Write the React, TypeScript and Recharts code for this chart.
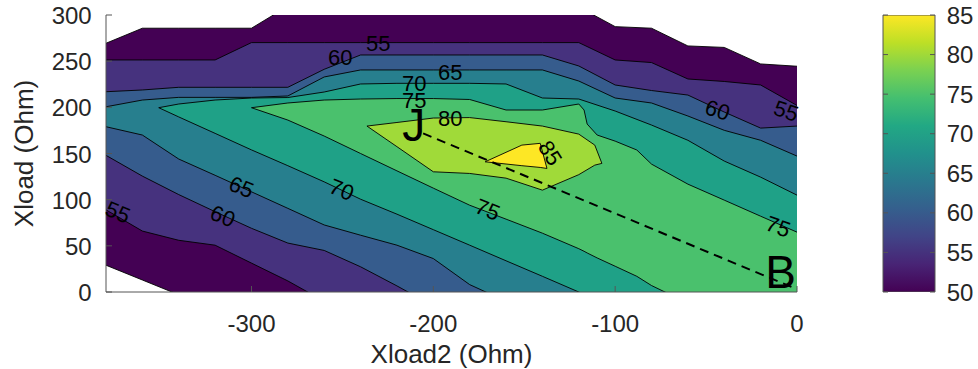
import React from "react";
import {
  Area,
  Bar,
  ComposedChart,
  ReferenceLine,
  Scatter,
  XAxis,
  YAxis,
} from "recharts";

// Filled contour regions (value >= level).
// Each row: [Xload2, lower edge of region, upper edge of region] in Ohm.
const band50 = [
  [-380, 29, 269.4], [-360, 13, 285.7], [-340, -3, 285.7], [-320, -10, 285.7],
  [-300, -10, 285.7], [-280, -10, 309.5], [-260, -10, 320], [-240, -10, 320],
  [-220, -10, 320], [-200, -10, 320], [-180, -10, 320], [-160, -10, 320],
  [-140, -10, 320], [-120, -10, 308.7], [-100, -10, 287.4], [-80, -10, 285.7],
  [-60, -10, 266.5], [-40, -10, 264.9], [-20, -10, 247], [0, -10, 244.5],
];
const band55 = [
  [-380, 89, 251.3], [-360, 66, 251.3], [-340, 56, 251.3], [-320, 50.7, 251.3],
  [-300, 31.3, 270.1], [-280, 12, 270.1], [-260, -10, 270.1], [-240, -10, 270.1],
  [-220, -10, 270.1], [-200, -10, 270.1], [-180, -10, 270.1], [-160, -10, 270.1],
  [-140, -10, 270.1], [-120, -10, 270.1], [-100, -10, 251.3], [-80, -10, 248.5],
  [-60, -10, 230.7], [-40, -10, 228], [-20, -10, 224.2], [0, -10, 202],
];
const band60 = [
  [-380, 148, 216.9], [-360, 125.5, 218.8], [-340, 105.5, 221.7], [-320, 87, 221.7],
  [-300, 69, 221.7], [-280, 53, 221.7], [-260, 45, 241.2], [-240, 27.3, 256.7],
  [-220, 6.6, 256.7], [-200, -15, 256.7], [-180, -15, 256.7], [-160, -15, 256.7],
  [-140, -15, 256.7], [-120, -15, 244.8], [-100, -15, 224.2], [-80, -15, 218.2],
  [-60, -15, 213.3], [-40, -15, 194.9], [-20, -15, 177.5], [0, -15, 179.7],
];
const band65 = [
  [-380, 179, 200.6], [-360, 170, 207.9], [-340, 144, 210.8], [-320, 126.4, 210.8],
  [-300, 108.5, 210.8], [-280, 90.6, 212.3], [-260, 72.6, 232.9], [-240, 61.5, 240.5],
  [-220, 50.7, 240.5], [-200, 36.2, 240.5], [-180, 8, 240.5], [-160, -10, 240.5],
  [-140, -10, 240.5], [-120, -10, 228.5], [-100, -10, 210.1], [-80, -10, 204.7],
  [-60, -10, 190.6], [-40, -10, 175.1], [-20, -10, 164.3], [0, -10, 147.2],
];
const band70 = [
  [-351, 199.6, 199.6], [-340, 189.6, 203.6], [-320, 171.8, 207.9], [-300, 153.9, 210.1],
  [-280, 136.8, 210.6], [-260, 119.3, 216.6], [-240, 100.5, 225.3], [-220, 84.3, 226],
  [-200, 67.5, 226], [-180, 50.7, 226], [-160, 33.8, 225.3], [-140, 17, 210.1],
  [-120, 0, 209], [-100, -20, 196], [-80, -20, 180.8], [-60, -20, 164.3],
  [-40, -20, 141.8], [-20, -20, 124.4], [0, -20, 104.9],
];
const band75 = [
  [-300, 199.6, 199.6], [-280, 186.2, 204.7], [-260, 168.9, 207.9], [-240, 150, 209],
  [-220, 131.2, 209.5], [-200, 112.5, 209.5], [-180, 94, 208.5], [-160, 78.9, 197.1],
  [-140, 63.7, 197.1], [-120, 46.9, 203.6], [-117.1, 44.1, 197.1], [-115.4, 42.3, 181.9],
  [-109.9, 36.9, 170], [-100, 27.9, 163.4], [-88.1, 17, 153.8], [-80, 7, 138.5],
  [-60, -12, 116.8], [-40, -12, 99.5], [-20, -12, 82.1], [0, -12, 64.8],
];
const band80 = [
  [-236.5, 179.7, 179.7], [-220, 157.4, 183.6], [-200, 130.2, 188.4], [-180, 128.4, 188.9],
  [-160, 123.3, 184.4], [-140, 110.3, 179.7], [-120, 127.1, 171], [-111.2, 137.4, 159.1],
  [-107.3, 139.3, 139.3],
];
const band85 = [
  [-171.5, 141, 141], [-151.3, 136.8, 159.1], [-141.2, 134.9, 161], [-137.5, 133.8, 133.8],
];

const levels = [50, 55, 60, 65, 70, 75, 80, 85];
const levelColors = ["#440154", "#46327e", "#365c8d", "#277f8e", "#1fa187", "#4ac16d", "#a0da39", "#fde725"];
const bands = [band50, band55, band60, band65, band70, band75, band80, band85];

const xTicks = [-300, -200, -100, 0];
const yTicks = [0, 50, 100, 150, 200, 250, 300];
const cbarTicks = [50, 55, 60, 65, 70, 75, 80, 85];
const cbarSpan = [{ name: "efficiency", span: [50, 85] }];

const contourLabels = [
  { x: -230.3, y: 268.7, text: "55", angle: 0 },
  { x: -251.2, y: 254.5, text: "60", angle: 0 },
  { x: -190.7, y: 238.2, text: "65", angle: 0 },
  { x: -210.5, y: 225.3, text: "70", angle: 0 },
  { x: -210.5, y: 207.9, text: "75", angle: 0 },
  { x: -190.7, y: 187.4, text: "80", angle: 0 },
  { x: -135.8, y: 150.4, text: "85", angle: 58 },
  { x: -373.5, y: 86.4, text: "55", angle: 22 },
  { x: -315.8, y: 82.1, text: "60", angle: 22 },
  { x: -305.6, y: 113.6, text: "65", angle: 22 },
  { x: -250.4, y: 110.8, text: "70", angle: 22 },
  { x: -170.1, y: 89.2, text: "75", angle: 22 },
  { x: -43.7, y: 197, text: "60", angle: 18 },
  { x: -6, y: 196, text: "55", angle: 18 },
  { x: -10.4, y: 70.7, text: "75", angle: 20 },
];
const markers = [
  { x: -217.1, y: 163.4, text: "J" },
  { x: -17.5, y: 4, text: "B" },
];
const pathJB = [
  { x: -205.6, y: 171.8 },
  { x: 0, y: 3 },
];

const viridis = ["#440154", "#482475", "#414487", "#355f8d", "#2a788e", "#21918c", "#22a884", "#44bf70", "#7ad151", "#bddf26", "#fde725"];

// merge the regions into one table keyed by Xload2
const rowsByX = new Map<number, any>();
bands.forEach((pts, i) =>
  pts.forEach(([x, lo, hi]) => {
    const row = rowsByX.get(x) ?? { x };
    row["b" + levels[i]] = [lo, hi];
    rowsByX.set(x, row);
  })
);
const table = [...rowsByX.values()].sort((a, b) => a.x - b.x);

const FONT = '"Liberation Sans", Arial, Helvetica, sans-serif';
const AXIS = "#555";
const TEXT = "#262626";

const BottomTick = ({ x, y, payload }: any) => (
  <g>
    <line x1={x} y1={y} x2={x} y2={y - 6} stroke={AXIS} />
    <text x={x} y={y + 39.5} textAnchor="middle" fontSize={24} fill={TEXT}>
      {payload.value}
    </text>
  </g>
);
const TopTick = ({ x, y }: any) => <line x1={x} y1={y} x2={x} y2={y + 6} stroke={AXIS} />;
const LeftTick = ({ x, y, payload }: any) => (
  <g>
    <line x1={x} y1={y} x2={x + 6} y2={y} stroke={AXIS} />
    <text x={x - 14.3} y={y + 9} textAnchor="end" fontSize={24} fill={TEXT}>
      {payload.value}
    </text>
  </g>
);
const RightTick = ({ x, y }: any) => <line x1={x} y1={y} x2={x - 6} y2={y} stroke={AXIS} />;

const CbarRightTick = ({ x, y, payload }: any) => (
  <g>
    <line x1={x} y1={y} x2={x - 5} y2={y} stroke={AXIS} />
    <text x={x + 11.7} y={y + 8.5} textAnchor="start" fontSize={24} fill={TEXT}>
      {payload.value}
    </text>
  </g>
);
const CbarLeftTick = ({ x, y }: any) => <line x1={x} y1={y} x2={x + 5} y2={y} stroke={AXIS} />;

const XTitle = ({ viewBox }: any) => (
  <text x={viewBox.x + viewBox.width / 2} y={viewBox.y + 70.7} textAnchor="middle" fontSize={26} fill={TEXT}>
    Xload2 (Ohm)
  </text>
);
const YTitle = ({ viewBox }: any) => {
  const cx = viewBox.x + 32.5;
  const cy = viewBox.y + viewBox.height / 2;
  return (
    <text x={cx} y={cy} transform={`rotate(-90 ${cx} ${cy})`} textAnchor="middle" fontSize={26} fill={TEXT}>
      Xload (Ohm)
    </text>
  );
};

const renderContourLabel = ({ cx, cy, payload }: any) => (
  <text
    x={cx}
    y={cy}
    transform={`rotate(${payload.angle} ${cx} ${cy})`}
    textAnchor="middle"
    dominantBaseline="central"
    fontSize={22}
    fill="#000"
  >
    {payload.text}
  </text>
);
const renderMarker = ({ cx, cy, payload }: any) => (
  <text x={cx} y={cy} textAnchor="start" fontSize={46} fill="#000">
    {payload.text}
  </text>
);

export default function App() {
  return (
    <div style={{ position: "absolute", left: 0, top: 0, width: 978, height: 369, background: "#fff", fontFamily: FONT }}>
      <div style={{ position: "absolute", left: 0, top: 0 }}>
        <ComposedChart width={978} height={369} data={table} margin={{ top: 15, right: 181, bottom: 0, left: 0 }}>
          {levels.map((lvl, i) => (
            <Area
              key={lvl}
              dataKey={"b" + lvl}
              type="linear"
              connectNulls
              stroke="#000"
              strokeWidth={0.9}
              fill={levelColors[i]}
              fillOpacity={1}
              dot={false}
              activeDot={false}
              isAnimationActive={false}
            />
          ))}
          <ReferenceLine
            segment={pathJB}
            stroke="#000"
            strokeWidth={2}
            strokeDasharray="9 6"
            ifOverflow="visible"
          />
          <XAxis
            dataKey="x"
            type="number"
            domain={[-380, 0]}
            ticks={xTicks}
            interval={0}
            allowDataOverflow
            height={77}
            tickSize={0}
            tickMargin={0}
            tickLine={false}
            axisLine={{ stroke: AXIS }}
            tick={(p: any) => <BottomTick {...p} />}
            label={(p: any) => <XTitle {...p} />}
          />
          <XAxis
            xAxisId="top"
            orientation="top"
            dataKey="x"
            type="number"
            domain={[-380, 0]}
            ticks={xTicks}
            interval={0}
            allowDataOverflow
            height={0}
            tickSize={0}
            tickMargin={0}
            tickLine={false}
            axisLine={{ stroke: AXIS }}
            tick={(p: any) => <TopTick {...p} />}
          />
          <YAxis
            type="number"
            domain={[0, 300]}
            ticks={yTicks}
            interval={0}
            allowDataOverflow
            width={106}
            tickSize={0}
            tickMargin={0}
            tickLine={false}
            axisLine={{ stroke: AXIS }}
            tick={(p: any) => <LeftTick {...p} />}
            label={(p: any) => <YTitle {...p} />}
          />
          <YAxis
            yAxisId="right"
            orientation="right"
            type="number"
            domain={[0, 300]}
            ticks={yTicks}
            interval={0}
            allowDataOverflow
            width={0}
            tickSize={0}
            tickMargin={0}
            tickLine={false}
            axisLine={{ stroke: AXIS }}
            tick={(p: any) => <RightTick {...p} />}
          />
          <XAxis xAxisId="lbl" dataKey="x" type="number" domain={[-380, 0]} hide />
          <YAxis yAxisId="lbl" dataKey="y" type="number" domain={[0, 300]} hide />
          <Scatter
            data={contourLabels}
            xAxisId="lbl"
            yAxisId="lbl"
            dataKey="y"
            shape={renderContourLabel}
            isAnimationActive={false}
          />
          <Scatter
            data={markers}
            xAxisId="lbl"
            yAxisId="lbl"
            dataKey="y"
            shape={renderMarker}
            isAnimationActive={false}
          />
        </ComposedChart>
      </div>
      <div style={{ position: "absolute", left: 858, top: 0 }}>
        <ComposedChart
          width={120}
          height={369}
          data={cbarSpan}
          barCategoryGap={0}
          barGap={0}
          margin={{ top: 15, right: 0, bottom: 77, left: 0 }}
        >
          <defs>
            <linearGradient id="viridisBar" x1="0" y1="1" x2="0" y2="0">
              {viridis.map((c, i) => (
                <stop key={c} offset={i / (viridis.length - 1)} stopColor={c} />
              ))}
            </linearGradient>
          </defs>
          <XAxis dataKey="name" type="category" hide />
          <YAxis
            yAxisId="l"
            orientation="left"
            type="number"
            domain={[50, 85]}
            ticks={cbarTicks}
            interval={0}
            allowDataOverflow
            width={25}
            tickSize={0}
            tickMargin={0}
            tickLine={false}
            axisLine={false}
            tick={(p: any) => <CbarLeftTick {...p} />}
          />
          <YAxis
            yAxisId="r"
            orientation="right"
            type="number"
            domain={[50, 85]}
            ticks={cbarTicks}
            interval={0}
            allowDataOverflow
            width={43}
            tickSize={0}
            tickMargin={0}
            tickLine={false}
            axisLine={false}
            tick={(p: any) => <CbarRightTick {...p} />}
          />
          <Bar
            yAxisId="r"
            dataKey="span"
            fill="url(#viridisBar)"
            stroke={AXIS}
            isAnimationActive={false}
          />
        </ComposedChart>
      </div>
    </div>
  );
}
